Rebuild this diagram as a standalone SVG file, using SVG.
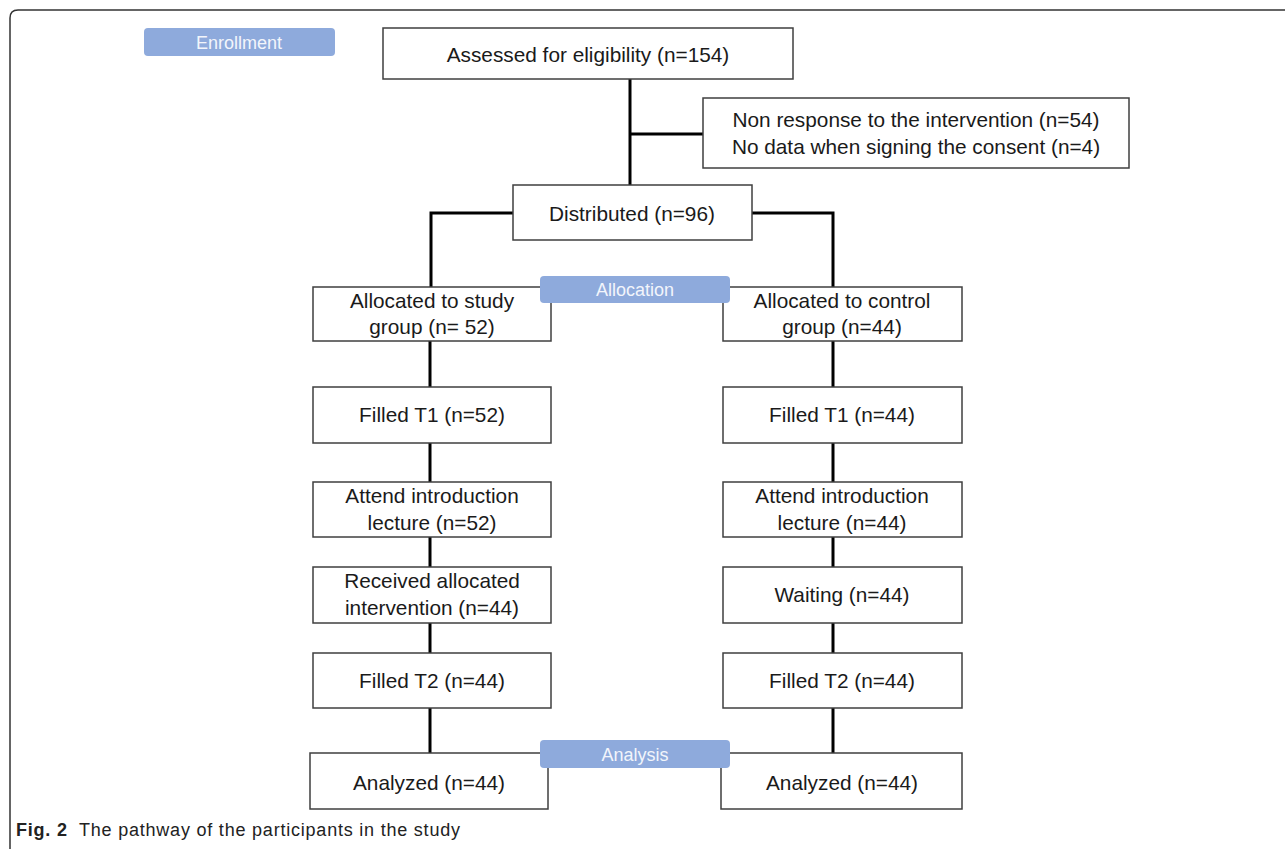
<svg xmlns="http://www.w3.org/2000/svg" width="1285" height="849" viewBox="0 0 1285 849">
<style>
.box{fill:#fff;stroke:#3f3f3f;stroke-width:1.5}
.pill{fill:#8eaadc}
.t{font-family:"Liberation Sans",Arial,sans-serif;font-size:20.8px;fill:#1a1a1a;text-anchor:middle}
.pt{font-family:"Liberation Sans",Arial,sans-serif;font-size:18px;fill:#f2f5fb;text-anchor:middle}
.c{fill:none;stroke:#000;stroke-width:3}
.cap{font-family:"Liberation Sans",Arial,sans-serif;font-size:18px;fill:#222}
</style>
<rect width="1285" height="849" fill="#fff"/>
<path d="M10,849 L10,18 Q10,10 18,10 L1285,10" fill="none" stroke="#333" stroke-width="1.5"/>
<g id="connectors">
<path class="c" d="M630,79 V185"/>
<path class="c" d="M630,134 H703"/>
<path class="c" d="M513,213 H431 V287"/>
<path class="c" d="M752,213 H833 V287"/>
<path class="c" d="M430,341 V387 M430,443 V482 M430,537 V567 M430,623 V653 M430,708 V753"/>
<path class="c" d="M833,341 V387 M833,443 V482 M833,537 V567 M833,623 V653 M833,708 V753"/>
</g>
<g id="assessed"><rect class="box" x="383" y="28" width="410" height="51"/><text class="t" x="588" y="62">Assessed for eligibility (n=154)</text></g>
<g id="excluded"><rect class="box" x="703" y="98" width="426" height="70"/><text class="t" x="916" y="127">Non response to the intervention (n=54)</text><text class="t" x="916" y="154">No data when signing the consent (n=4)</text></g>
<g id="distributed"><rect class="box" x="513" y="185" width="239" height="55"/><text class="t" x="632" y="221">Distributed (n=96)</text></g>
<g id="alloc-study"><rect class="box" x="313" y="287" width="238" height="54"/><text class="t" x="432" y="308">Allocated to study</text><text class="t" x="432" y="334">group (n= 52)</text></g>
<g id="alloc-control"><rect class="box" x="723" y="287" width="239" height="54"/><text class="t" x="842" y="308">Allocated to control</text><text class="t" x="842" y="334">group (n=44)</text></g>
<g id="t1-study"><rect class="box" x="313" y="387" width="238" height="56"/><text class="t" x="432" y="422">Filled T1 (n=52)</text></g>
<g id="t1-control"><rect class="box" x="723" y="387" width="239" height="56"/><text class="t" x="842" y="422">Filled T1 (n=44)</text></g>
<g id="intro-study"><rect class="box" x="313" y="482" width="238" height="55"/><text class="t" x="432" y="503">Attend introduction</text><text class="t" x="432" y="530">lecture (n=52)</text></g>
<g id="intro-control"><rect class="box" x="723" y="482" width="239" height="55"/><text class="t" x="842" y="503">Attend introduction</text><text class="t" x="842" y="530">lecture (n=44)</text></g>
<g id="received"><rect class="box" x="313" y="567" width="238" height="56"/><text class="t" x="432" y="588">Received allocated</text><text class="t" x="432" y="615">intervention (n=44)</text></g>
<g id="waiting"><rect class="box" x="723" y="567" width="239" height="56"/><text class="t" x="842" y="602">Waiting (n=44)</text></g>
<g id="t2-study"><rect class="box" x="313" y="653" width="238" height="55"/><text class="t" x="432" y="688">Filled T2 (n=44)</text></g>
<g id="t2-control"><rect class="box" x="723" y="653" width="239" height="55"/><text class="t" x="842" y="688">Filled T2 (n=44)</text></g>
<g id="analyzed-study"><rect class="box" x="310" y="753" width="238" height="56"/><text class="t" x="429" y="790">Analyzed (n=44)</text></g>
<g id="analyzed-control"><rect class="box" x="721" y="753" width="241" height="56"/><text class="t" x="842" y="790">Analyzed (n=44)</text></g>
<g id="enrollment"><rect class="pill" x="144" y="28" width="191" height="28" rx="4"/><text class="pt" x="239" y="49">Enrollment</text></g>
<g id="allocation"><rect class="pill" x="540" y="276" width="190" height="27" rx="4"/><text class="pt" x="635" y="296">Allocation</text></g>
<g id="analysis"><rect class="pill" x="540" y="740" width="190" height="28" rx="4"/><text class="pt" x="635" y="761">Analysis</text></g>
<text class="cap" x="16" y="836" xml:space="preserve" textLength="444" lengthAdjust="spacing"><tspan font-weight="bold">Fig. 2</tspan>  The pathway of the participants in the study</text>
</svg>
